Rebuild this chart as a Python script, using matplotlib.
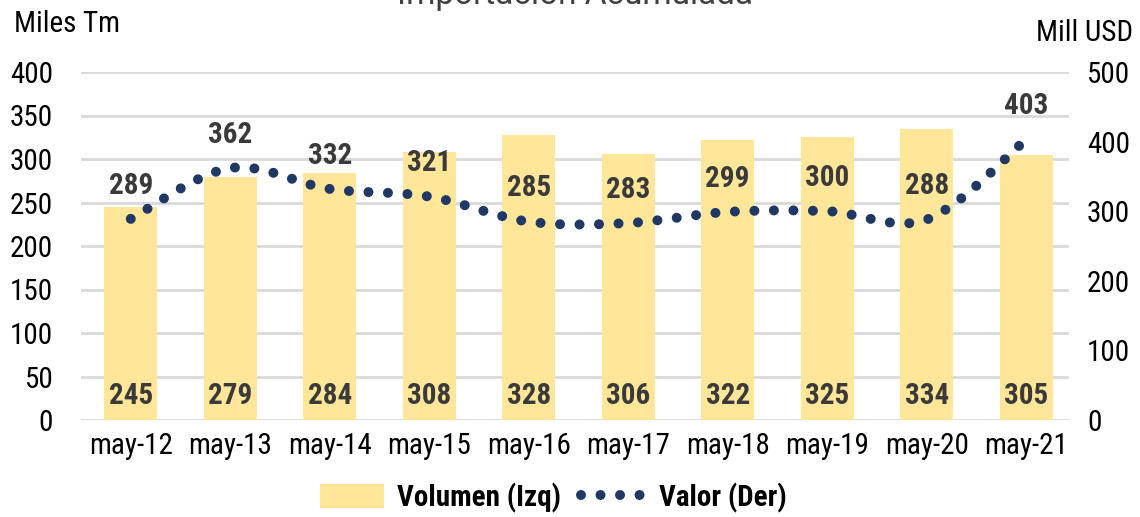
import matplotlib
matplotlib.use("Agg")
import matplotlib.pyplot as plt
from matplotlib import font_manager
from matplotlib.path import Path
from matplotlib.patches import PathPatch, Patch
from matplotlib.lines import Line2D

# datos
periodos = ['may-12', 'may-13', 'may-14', 'may-15', 'may-16',
            'may-17', 'may-18', 'may-19', 'may-20', 'may-21']
volumen = [245, 279, 284, 308, 328, 306, 322, 325, 334, 305]
valor = [289, 362, 332, 321, 285, 283, 299, 300, 288, 403]

yticks_izq = [0, 50, 100, 150, 200, 250, 300, 350, 400]
yticks_der = [0, 100, 200, 300, 400, 500]

c_bar = '#FFE699'
c_dot = '#1F3864'
c_lbl = '#3A3A3A'

# fuente condensada con negrita
nombres = {f.name for f in font_manager.fontManager.ttflist}
preferidas = ['Roboto Condensed', 'Arial Narrow', 'Liberation Sans Narrow',
              'Barlow Condensed', 'Asap Condensed', 'Roboto']
fam = [p for p in preferidas if p in nombres][0]
plt.rcParams['font.family'] = [fam, 'DejaVu Sans']
fs = 21

fig = plt.figure(figsize=(11.4, 5.17), dpi=100)
ax = fig.add_axes([81/1140, 1-420/517, (1069-81)/1140, (420-72)/517])
ax2 = ax.twinx()

x = list(range(len(periodos)))
ax.bar(x, volumen, width=0.53, color=c_bar, zorder=2)
ax.set_ylim(0, 400)
ax.set_yticks(yticks_izq)
ax.set_xlim(-0.5, 9.43)
ax.set_xticks(x)
ax.set_xticklabels(periodos)
ax.grid(axis='y', color='#D9D9D9', linewidth=2, zorder=0)
ax.set_axisbelow(True)
for s in ax.spines.values():
    s.set_visible(False)
for s in ax2.spines.values():
    s.set_visible(False)
ax.tick_params(axis='both', length=0, labelsize=fs, colors='black')
ax.tick_params(axis='y', pad=20)
ax.tick_params(axis='x', pad=9)

ax2.set_ylim(0, 500)
ax2.set_yticks(yticks_der)
ax2.tick_params(axis='y', length=0, labelsize=fs, pad=13)

# curva suavizada (estilo Excel) con Bezier
verts = [(x[0], valor[0])]
codes = [Path.MOVETO]
n = len(x)
for i in range(n - 1):
    p0 = (x[max(i-1, 0)], valor[max(i-1, 0)])
    p1 = (x[i], valor[i])
    p2 = (x[i+1], valor[i+1])
    p3 = (x[min(i+2, n-1)], valor[min(i+2, n-1)])
    c1 = (p1[0] + (p2[0]-p0[0])/6, p1[1] + (p2[1]-p0[1])/6)
    c2 = (p2[0] - (p3[0]-p1[0])/6, p2[1] - (p3[1]-p1[1])/6)
    verts += [c1, c2, p2]
    codes += [Path.CURVE4]*3
curva = PathPatch(Path(verts, codes), facecolor='none', edgecolor=c_dot,
                  linewidth=7.2, linestyle=(0, (0.001, 1.95)),
                  capstyle='round', transform=ax2.transData, zorder=3)
ax2.add_patch(curva)

# etiquetas
for xi, v in zip(x, volumen):
    ax.text(xi, 28, str(v), ha='center', va='center', fontsize=fs,
            fontweight='bold', color=c_lbl, zorder=4)
for xi, v in zip(x, valor):
    ax2.annotate(str(v), (xi, v), xytext=(0, 24), textcoords='offset points',
                 ha='center', va='center', fontsize=fs, fontweight='bold',
                 color=c_lbl, zorder=4)

fig.text(14/1140, 1-24/517, 'Miles Tm', fontsize=fs, va='center', ha='left')
fig.text(1133/1140, 1-33/517, 'Mill USD', fontsize=fs, va='center', ha='right')
fig.text(575/1140, 1-4/517, 'Importación Acumulada', fontsize=24,
         va='baseline', ha='center', color='#404040',
         family=['Roboto', 'DejaVu Sans'])

handles = [Patch(facecolor=c_bar, edgecolor='none'),
           Line2D([], [], color=c_dot, linewidth=7.2,
                  linestyle=(0, (0.001, 1.95)), dash_capstyle='round')]
leg = fig.legend(handles, ['Volumen (Izq)', 'Valor (Der)'], loc='center',
                 bbox_to_anchor=(553/1140, 1-498/517), ncol=2, frameon=False,
                 prop={'size': fs, 'weight': 'bold'}, handlelength=2.2,
                 handletextpad=0.45, columnspacing=0.7, handleheight=0.9)

fig.savefig('out.png', dpi=100)
